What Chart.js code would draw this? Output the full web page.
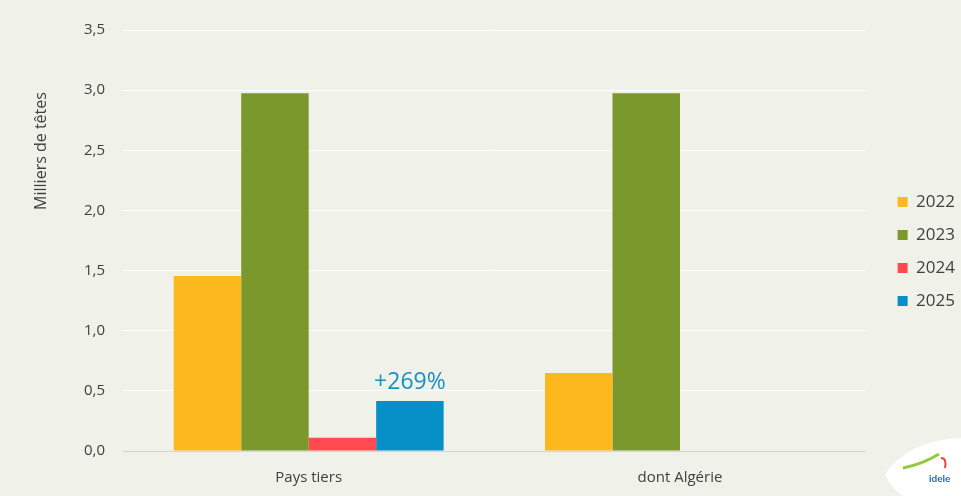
<!DOCTYPE html>
<html>
<head>
<meta charset="utf-8">
<script src="https://cdn.jsdelivr.net/npm/chart.js@4.4.1/dist/chart.umd.min.js"></script>
<style>
  html, body { margin: 0; padding: 0; background: #f0f1e9; }
  #wrap { position: relative; width: 961px; height: 496px; }
  #logo { position: absolute; right: 0; bottom: 0; width: 80px; height: 66px; }
</style>
</head>
<body>
<div id="wrap">
  <canvas id="chart" width="961" height="496"></canvas>
  <svg id="logo" viewBox="0 0 80 66">
    <path d="M4 44 Q28 10 80 8 L80 66 L22 66 Q10 58 4 44 Z" fill="#ffffff"/>
    <path d="M22 38 Q42 34 58 24" stroke="#9ac83c" stroke-width="3" fill="none"/>
    <path d="M60 28 q6 0 4 10" stroke="#e8403c" stroke-width="2" fill="none"/>
    <text x="48" y="52" font-family="Lato, sans-serif" font-size="10" font-weight="bold" fill="#2a6ab4">idele</text>
  </svg>
</div>
<script>
// Données (milliers de têtes)
const categories = ['Pays tiers', 'dont Algérie'];
const years = ['2022', '2023', '2024', '2025'];
const values2022 = [1.455, 0.648];
const values2023 = [2.975, 2.975];
const values2024 = [0.11, 0];
const values2025 = [0.415, 0];
const yTicks = [0, 0.5, 1, 1.5, 2, 2.5, 3, 3.5];
const annotationText = '+269%';

const colors = ['#fdb81e', '#7a982c', '#ff4a50', '#078fc7'];
const textColor = '#404040';
const fontFamily = '"Open Sans", Lato, sans-serif';

// Titre de l'axe Y placé comme dans l'original (haut de l'axe)
const yTitlePlugin = {
  id: 'yTitle',
  afterDraw(chart) {
    const { ctx, chartArea } = chart;
    ctx.save();
    ctx.translate(41, chartArea.top + 121);
    ctx.rotate(-Math.PI / 2);
    ctx.fillStyle = textColor;
    ctx.font = '16px ' + fontFamily;
    ctx.textAlign = 'center';
    ctx.textBaseline = 'middle';
    ctx.fillText('Milliers de têtes', 0, 0);
    ctx.restore();
  }
};

// Légende décalée vers la droite, comme l'original
const legendShift = {
  id: 'legendShift',
  afterLayout(chart) {
    const lg = chart.legend;
    lg.left += 16; lg.right += 16;
    lg.top -= 16; lg.bottom -= 16;
  }
};

// Étiquette d'évolution au-dessus de la barre 2025
const annotationPlugin = {
  id: 'growthLabel',
  afterDatasetsDraw(chart) {
    const bar = chart.getDatasetMeta(3).data[0];
    if (!bar) return;
    const { ctx } = chart;
    ctx.save();
    ctx.fillStyle = '#1a8fc6';
    ctx.font = '23px ' + fontFamily;
    ctx.textAlign = 'center';
    ctx.textBaseline = 'alphabetic';
    ctx.fillText(annotationText, bar.x, bar.y - 12);
    ctx.restore();
  }
};

const seriesValues = [values2022, values2023, values2024, values2025];

new Chart(document.getElementById('chart'), {
  type: 'bar',
  data: {
    labels: categories,
    datasets: years.map((y, i) => ({
      label: y,
      data: seriesValues[i],
      backgroundColor: colors[i],
      borderWidth: 0,
      categoryPercentage: 0.727,
      barPercentage: 1.0
    }))
  },
  options: {
    responsive: false,
    animation: false,
    layout: { padding: { left: 66, top: 30, right: 12, bottom: -9 } },
    plugins: {
      legend: {
        position: 'right',
        align: 'center',
        labels: {
          boxWidth: 10,
          boxHeight: 10,
          padding: 16,
          color: textColor,
          font: { family: fontFamily, size: 17 }
        }
      },
      tooltip: { enabled: false }
    },
    scales: {
      x: {
        grid: { display: false, drawTicks: false },
        border: { display: false },
        ticks: { color: textColor, font: { family: fontFamily, size: 15 }, padding: 18 }
      },
      y: {
        min: 0,
        max: 3.5,
        afterBuildTicks(axis) { axis.ticks = yTicks.map(v => ({ value: v })); },
        grid: {
          color: ctx => (ctx.tick && ctx.tick.value === 0 ? '#d4d4d0' : '#ffffff'),
          lineWidth: 1,
          drawTicks: false
        },
        border: { display: false },
        ticks: {
          color: textColor,
          font: { family: fontFamily, size: 15 },
          padding: 18,
          callback: v => Number(v).toFixed(1).replace('.', ',')
        }
      }
    }
  },
  plugins: [yTitlePlugin, legendShift, annotationPlugin]
});
</script>
</body>
</html>
